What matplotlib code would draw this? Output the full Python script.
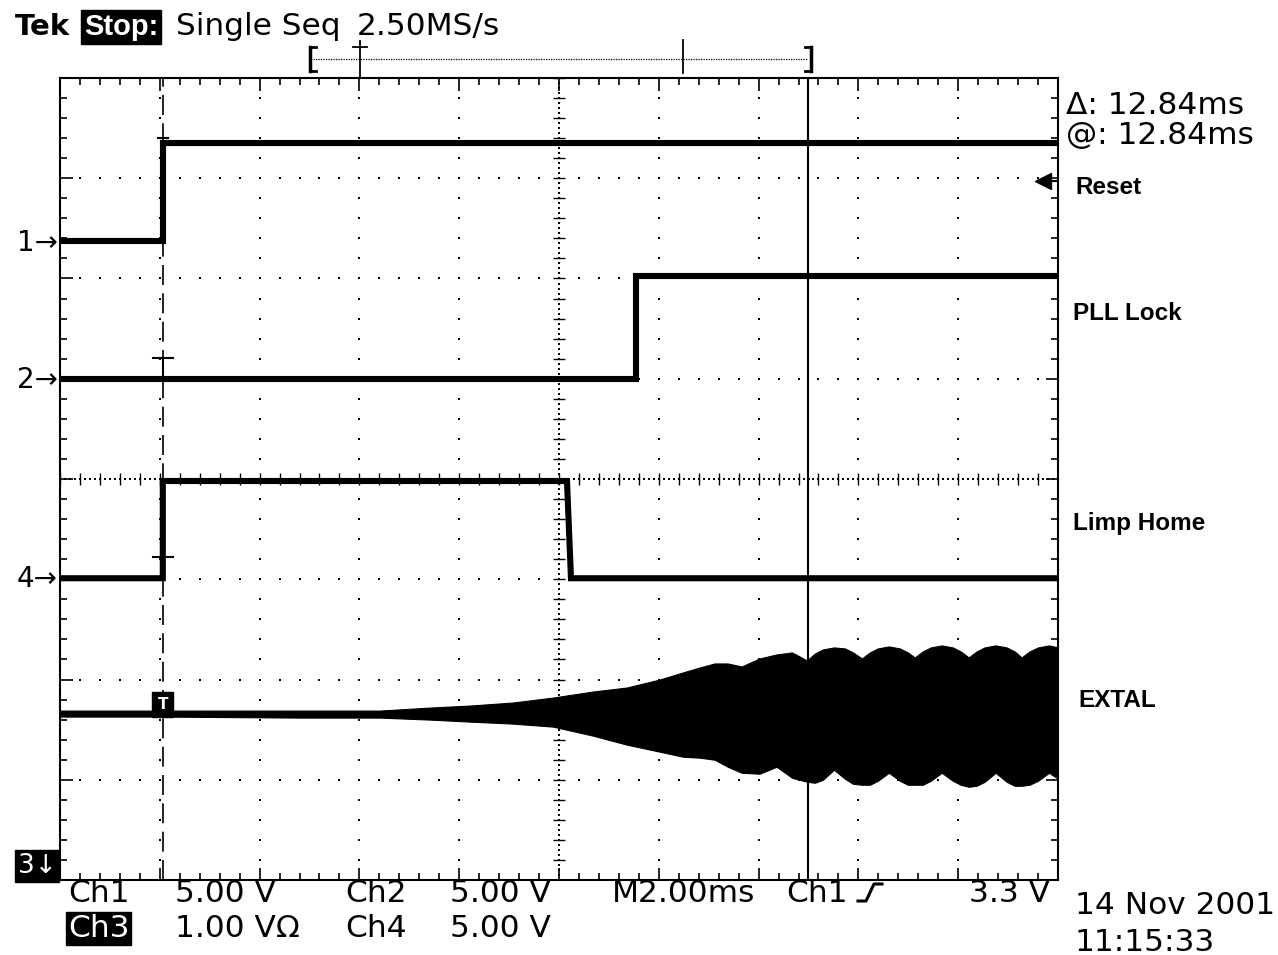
import numpy as np
import matplotlib.pyplot as plt
from matplotlib.ticker import MultipleLocator

plt.rcParams['font.family'] = ['DejaVu Sans']

W, H = 1278, 955          # output size in px

# Screen: 10 div x 2.00 ms, 8 div vertical. Time in ms relative to trigger,
# levels in divisions above the bottom graticule line.
t_left = -2.06
ms_per_div = 2.0
t_right = t_left + 10 * ms_per_div

# Ch1 - Reset
ch1_low, ch1_high, ch1_edge = 6.37, 7.35, 0.0
# Ch2 - PLL Lock
ch2_low, ch2_high, ch2_edge = 5.00, 6.02, 9.48
# Ch4 - Limp Home
ch4_low, ch4_high = 3.01, 3.98
ch4_rise, ch4_fall_a, ch4_fall_b = 0.0, 8.10, 8.18
# Ch1 trigger level arrow (3.3 V rising)
trig_lvl = 6.97
cursor_ms = 12.93

# Ch3 - EXTAL envelope
extal_t = [-2.06, 0.0, 2.75, 4.35, 5.35, 6.15, 7.01, 7.82, 8.62, 9.30, 9.96,
           10.42, 10.76, 11.06, 11.32, 11.60, 11.96, 12.30, 12.61,
           12.91, 13.07, 13.23, 13.45, 13.67, 13.83, 14.01, 14.17, 14.33,
           14.55, 14.77, 14.93, 15.07, 15.23, 15.39, 15.61, 15.83, 15.99,
           16.15, 16.31, 16.47, 16.69, 16.91, 17.07, 17.21, 17.37, 17.54,
           17.76, 17.94]
extal_hi = [1.69, 1.69, 1.69, 1.69, 1.72, 1.74, 1.77, 1.82, 1.88, 1.92, 2.00,
            2.07, 2.12, 2.16, 2.16, 2.13, 2.21, 2.25, 2.27,
            2.19, 2.26, 2.30, 2.32, 2.31, 2.27, 2.21, 2.27, 2.31,
            2.33, 2.31, 2.27, 2.22, 2.28, 2.32, 2.34, 2.32, 2.28,
            2.22, 2.28, 2.32, 2.34, 2.32, 2.28, 2.22, 2.28, 2.32,
            2.34, 2.32]
extal_lo = [1.63, 1.63, 1.62, 1.62, 1.60, 1.58, 1.56, 1.53, 1.44, 1.35, 1.28,
            1.23, 1.22, 1.20, 1.13, 1.07, 1.06, 1.13, 1.02,
            0.98, 0.97, 1.00, 1.10, 1.01, 0.96, 0.95, 0.95, 0.99,
            1.07, 0.99, 0.95, 0.95, 0.95, 0.99, 1.07, 0.99, 0.95,
            0.93, 0.94, 0.98, 1.07, 0.98, 0.94, 0.94, 0.95, 0.99,
            1.07, 1.01]

fig = plt.figure(figsize=(W / 100, H / 100), dpi=100)
fig.patch.set_facecolor("white")

# overlay in pixel coordinates for the screen annotations
ov = fig.add_axes([0, 0, 1, 1], zorder=1)
ov.set_xlim(0, W)
ov.set_ylim(H, 0)
ov.axis("off")

ax = fig.add_axes([60 / W, (H - 880) / H, 998 / W, 802 / H], zorder=2)
ax.set_xlim(t_left, t_right)
ax.set_ylim(0, 8)
for sp in ax.spines.values():
    sp.set_linewidth(1.5)

# graticule ticks on the border
ax.set_xticks(t_left + ms_per_div * np.arange(11))
ax.set_xticks(t_left + ms_per_div / 5 * np.arange(51), minor=True)
ax.yaxis.set_major_locator(MultipleLocator(1))
ax.yaxis.set_minor_locator(MultipleLocator(0.2))
ax.tick_params(which="both", direction="in", top=True, right=True,
               labelbottom=False, labelleft=False, width=1.2)
ax.tick_params(which="major", length=9)
ax.tick_params(which="minor", length=5)

# dotted grid
dot = dict(ls="none", marker="s", ms=1.6, mew=0, color="black", zorder=1)
ys_dots = np.arange(0, 8.001, 0.2)
xs_dots = t_left + np.arange(0, 50.001) * ms_per_div / 5
for i in range(1, 10):
    if i == 5:
        continue
    ax.plot(np.full_like(ys_dots, t_left + i * ms_per_div), ys_dots, **dot)
for j in range(1, 8):
    if j == 4:
        continue
    ax.plot(xs_dots, np.full_like(xs_dots, j), **dot)

# centre cross with fine ticks
xc = t_left + 5 * ms_per_div
ys_fine = np.arange(0, 8.001, 0.05)
xs_fine = t_left + np.arange(0, 200.001) * ms_per_div / 20
ax.plot(np.full_like(ys_fine, xc), ys_fine, **dot)
ax.plot(xs_fine, np.full_like(xs_fine, 4), **dot)
ax.plot(np.full_like(ys_dots, xc), ys_dots, ls="none", marker="_", ms=8,
        mew=1, color="black", zorder=1)
ax.plot(xs_dots, np.full_like(xs_dots, 4), ls="none", marker="|", ms=8,
        mew=1, color="black", zorder=1)

# trigger position (dashed) and cursor (solid)
ax.axvline(0, color="black", lw=1.2, dashes=(12, 5), zorder=2)
ax.axvline(cursor_ms, color="black", lw=1.5, zorder=2)

trace = dict(color="black", lw=4.4, solid_joinstyle="miter", zorder=3)
ax.plot([t_left, ch1_edge, ch1_edge, t_right],
        [ch1_low, ch1_low, ch1_high, ch1_high], **trace)
ax.plot([t_left, ch2_edge, ch2_edge, t_right],
        [ch2_low, ch2_low, ch2_high, ch2_high], **trace)
ax.plot([t_left, ch4_rise, ch4_rise, ch4_fall_a, ch4_fall_b, t_right],
        [ch4_low, ch4_low, ch4_high, ch4_high, ch4_low, ch4_low], **trace)
ax.fill_between(extal_t, extal_lo, extal_hi, color="black", lw=0.8,
                edgecolor="black", zorder=3)

# trigger markers on the channels
for lvl in (ch2_low, ch4_low):
    ax.plot([0, 0], [lvl, lvl + 0.21], color="black", lw=1.5, zorder=4)
    ax.plot([-0.2, 0.2], [lvl + 0.21, lvl + 0.21], color="black", lw=1.5, zorder=4)
ax.plot([-0.1, 0.1], [ch1_high + 0.05, ch1_high + 0.05], color="black", lw=1.5, zorder=4)
ax.text(0, 1.75, "T", ha="center", va="center", color="white", fontsize=11,
        fontweight="bold", zorder=5,
        bbox=dict(boxstyle="square,pad=0.35", fc="black", ec="black"))

# trigger level arrow for Ch1
ax.plot([t_right - 0.36, t_right], [trig_lvl, trig_lvl], color="black", lw=1.5, zorder=4)
ax.plot(t_right - 0.3, trig_lvl, marker="<", ms=11, color="black", zorder=4)

# ---- screen text ----
big = 22.5
ov.text(15, 35, "Tek", fontsize=21, fontweight="bold", va="baseline")
ov.text(84, 35, "Stop:", fontsize=21, fontweight="bold", color="white", va="baseline",
        family=["Liberation Sans", "DejaVu Sans"],
        bbox=dict(boxstyle="square,pad=0.1", fc="black", ec="black"))
ov.text(176, 35, "Single Seq", fontsize=big, va="baseline")
ov.text(357, 35, "2.50MS/s", fontsize=big, va="baseline")

# record-position bar
ov.plot([313, 808], [59, 59], color="black", lw=0.9, ls=(0, (1, 1)))
for x0, dx in ((310, 6), (811, -6)):
    ov.plot([x0, x0], [47, 71], color="black", lw=2.5)
    ov.plot([x0, x0 + dx], [47, 47], color="black", lw=2)
    ov.plot([x0, x0 + dx], [71, 71], color="black", lw=2)
ov.plot([360, 360], [41, 78], color="black", lw=1.3)
ov.plot([353, 367], [47, 47], color="black", lw=1.3)
ov.plot([683, 683], [40, 73], color="black", lw=1.3)

ov.text(222, 115, "Ch3 Zoom:", fontsize=big, va="baseline")
ov.text(447, 115, "0.5X Vert", fontsize=big, va="baseline")
ov.text(628, 115, "0.01X Horz", fontsize=big, va="baseline")

ov.text(1066, 114, "Δ: 12.84ms", fontsize=big, va="baseline")
ov.text(1066, 144, "@: 12.84ms", fontsize=big, va="baseline")

lab = dict(fontsize=17.5, fontweight="bold", va="baseline",
           family=["Liberation Sans", "DejaVu Sans"])
ov.text(1075, 194, "Reset", **lab)
ov.text(1073, 320, "PLL Lock", **lab)
ov.text(1073, 530, "Limp Home", **lab)
ov.text(1078, 707, "EXTAL", **lab)

# channel ground markers
for txt, lvl in (("1→", ch1_low), ("2→", ch2_low), ("4→", ch4_low)):
    ov.text(58, 880 - lvl * 100, txt, fontsize=20, ha="right", va="center")
ov.text(37, 866, "3↓", fontsize=19, color="white", ha="center", va="center",
        bbox=dict(boxstyle="square,pad=0.1", fc="black", ec="black"))

# bottom status lines
ov.text(68, 902, "Ch1", fontsize=big, va="baseline")
ov.text(175, 902, "5.00 V", fontsize=big, va="baseline")
ov.text(345, 902, "Ch2", fontsize=big, va="baseline")
ov.text(450, 902, "5.00 V", fontsize=big, va="baseline")
ov.text(612, 902, "M2.00ms", fontsize=big, va="baseline")
ov.text(786, 902, "Ch1", fontsize=big, va="baseline")
ov.plot([858, 866, 874, 882], [901, 901, 884, 884], color="black", lw=2.2)
ov.text(1050, 902, "3.3 V", fontsize=big, va="baseline", ha="right")

ov.text(68, 937, "Ch3", fontsize=big, va="baseline", color="white",
        bbox=dict(boxstyle="square,pad=0.05", fc="black", ec="black"))
ov.text(175, 937, "1.00 VΩ", fontsize=big, va="baseline")
ov.text(345, 937, "Ch4", fontsize=big, va="baseline")
ov.text(450, 937, "5.00 V", fontsize=big, va="baseline")

ov.text(1075, 914, "14 Nov 2001", fontsize=big, va="baseline")
ov.text(1075, 951, "11:15:33", fontsize=big, va="baseline")

fig.savefig("out.png", dpi=100, facecolor="white")
